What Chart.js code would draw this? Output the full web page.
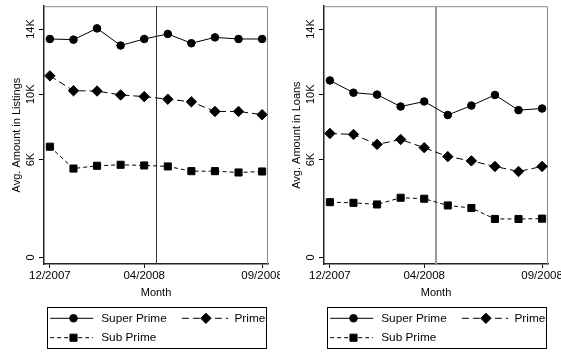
<!DOCTYPE html>
<html><head><meta charset="utf-8">
<script src="https://cdn.jsdelivr.net/npm/chart.js@4/dist/chart.umd.min.js"></script>
<style>
html,body{margin:0;padding:0;background:#fff;}
#wrap{position:relative;width:561px;height:352px;overflow:hidden;background:#fff;}
canvas{position:absolute;top:0;}
</style></head><body>
<div id="wrap">
<canvas id="c1" width="280" height="352" style="left:0"></canvas>
<canvas id="c2" width="281" height="352" style="left:280px"></canvas>
</div>
<script>
// ---- data (amounts in thousands of dollars) ----
const months = ['12/2007','01/2008','02/2008','03/2008','04/2008','05/2008','06/2008','07/2008','08/2008','09/2008'];
const xTickLabels = ['12/2007','04/2008','09/2008'];
const yTickValues = [0, 6, 10, 14];
const yTickLabels = ['0', '6K', '10K', '14K'];
const eventPosition = 4.5; // vertical reference line between 04/2008 and 05/2008
const seriesNames = ['Super Prime', 'Prime', 'Sub Prime'];

const superPrimeListings = [13.39, 13.35, 14.04, 12.99, 13.39, 13.70, 13.13, 13.49, 13.39, 13.39];
const primeListings      = [11.13, 10.22, 10.20, 9.96, 9.86, 9.70, 9.54, 8.95, 8.95, 8.75];
const subPrimeListings   = [6.79, 5.45, 5.62, 5.68, 5.64, 5.58, 5.29, 5.29, 5.21, 5.27];

const superPrimeLoans = [10.85, 10.10, 9.98, 9.25, 9.56, 8.73, 9.31, 9.96, 9.03, 9.13];
const primeLoans      = [7.60, 7.54, 6.93, 7.23, 6.73, 6.18, 5.92, 5.58, 5.27, 5.58];
const subPrimeLoans   = [3.39, 3.35, 3.25, 3.66, 3.60, 3.19, 3.03, 2.36, 2.36, 2.38];

const FONT = '"Liberation Sans", Arial, Helvetica, sans-serif';
Chart.defaults.font.family = FONT;
Chart.defaults.color = '#000';

const styles = [
  {dash: [], point: 'circle', radius: 3.8},
  {dash: [7, 4], point: 'rectRot', radius: 5.2},
  {dash: [4, 3], point: 'rect', radius: 5.0}
];

function toPoints(arr) { return arr.map((v, i) => ({x: i, y: v})); }

function makeDatasets(seriesList) {
  return seriesList.map((s, k) => ({
    label: seriesNames[k],
    data: toPoints(s),
    borderColor: '#000',
    backgroundColor: '#000',
    borderWidth: 1,
    borderDash: styles[k].dash,
    pointStyle: styles[k].point,
    pointRadius: styles[k].radius,
    pointBorderWidth: 1,
    pointBackgroundColor: '#000',
    pointBorderColor: '#000',
    tension: 0,
    fill: false
  }));
}

function drawMarker(ctx, style, r, x, y) {
  ctx.beginPath();
  if (style === 'circle') {
    ctx.arc(x, y, r, 0, Math.PI * 2);
  } else if (style === 'rectRot') {
    ctx.moveTo(x - r, y); ctx.lineTo(x, y - r); ctx.lineTo(x + r, y); ctx.lineTo(x, y + r); ctx.closePath();
  } else {
    const h = r * Math.SQRT1_2;
    ctx.rect(x - h, y - h, 2 * h, 2 * h);
  }
  ctx.fillStyle = '#000'; ctx.fill();
  ctx.lineWidth = 1; ctx.setLineDash([]); ctx.strokeStyle = '#000'; ctx.stroke();
}

const panelPlugin = {
  id: 'panel',
  beforeDatasetsDraw(chart, args, opts) {
    const ctx = chart.ctx, ca = chart.chartArea;
    ctx.save();
    // frame (top and right)
    ctx.strokeStyle = '#8a8a8a'; ctx.lineWidth = 1;
    ctx.beginPath();
    ctx.moveTo(ca.left, ca.top + 0.5); ctx.lineTo(ca.right - 0.5, ca.top + 0.5); ctx.lineTo(ca.right - 0.5, ca.bottom);
    ctx.stroke();
    // event line
    const xs = chart.scales.x;
    let px = xs.getPixelForValue(eventPosition);
    if (opts.eventWidth % 2 === 1) px = Math.round(px) + 0.5; else px = Math.round(px);
    ctx.strokeStyle = opts.eventColor; ctx.lineWidth = opts.eventWidth;
    ctx.beginPath(); ctx.moveTo(px, ca.top); ctx.lineTo(px, ca.bottom); ctx.stroke();
    ctx.restore();
  },
  afterDraw(chart, args, opts) {
    const ctx = chart.ctx, ca = chart.chartArea;
    const ys = chart.scales.y;
    ctx.save();
    // rotated y tick labels
    ctx.fillStyle = '#000';
    ctx.font = '11px ' + FONT;
    ctx.textAlign = 'center'; ctx.textBaseline = 'middle';
    yTickValues.forEach((v, i) => {
      const py = ys.getPixelForValue(v);
      ctx.save();
      ctx.translate(ca.left - 13.3, py);
      ctx.rotate(-Math.PI / 2);
      ctx.fillText(yTickLabels[i], 0, 0);
      ctx.restore();
    });
    // legend box
    const bl = Math.round(ca.left + 3.3) + 0.5;
    const br = Math.round(ca.right - 2) + 0.5;
    const bt = 307.5, bb = 348.5;
    ctx.strokeStyle = '#000'; ctx.lineWidth = 1; ctx.setLineDash([]);
    ctx.strokeRect(bl, bt, br - bl, bb - bt);
    const rows = [318.3, 337.7];
    const cols = [
      {s0: 2.7, s1: 45.7, m: 26, t: 53.7},
      {s0: 134.4, s1: 180.7, m: 158.4, t: 187}
    ];
    const placement = [{row: 0, col: 0}, {row: 0, col: 1}, {row: 1, col: 0}];
    ctx.save();
    ctx.beginPath(); ctx.rect(bl, bt, br - bl, bb - bt); ctx.clip();
    chart.data.datasets.forEach((ds, k) => {
      const p = placement[k], c = cols[p.col], y = rows[p.row];
      ctx.strokeStyle = '#000'; ctx.lineWidth = 1;
      ctx.setLineDash(ds.borderDash || []);
      ctx.beginPath(); ctx.moveTo(bl + c.s0, y); ctx.lineTo(bl + c.s1, y); ctx.stroke();
      drawMarker(ctx, ds.pointStyle, ds.pointRadius, bl + c.m, y);
      ctx.fillStyle = '#000';
      ctx.font = '11.8px ' + FONT;
      ctx.textAlign = 'left'; ctx.textBaseline = 'middle';
      ctx.fillText(ds.label, bl + c.t, y + 0.5);
    });
    ctx.restore();
    ctx.restore();
  }
};

function makeChart(id, seriesList, yTitle, rightPad, eventColor, eventWidth) {
  return new Chart(document.getElementById(id), {
    type: 'line',
    data: {datasets: makeDatasets(seriesList)},
    plugins: [panelPlugin],
    options: {
      responsive: false,
      animation: false,
      devicePixelRatio: 1,
      layout: {padding: {left: 0, top: 4, right: rightPad, bottom: 52}},
      plugins: {
        legend: {display: false},
        tooltip: {enabled: false},
        panel: {eventColor: eventColor, eventWidth: eventWidth}
      },
      scales: {
        x: {
          type: 'linear',
          min: -0.25, max: 9.25,
          afterBuildTicks: (s) => { s.ticks = xTickLabels.map(l => ({value: months.indexOf(l)})); },
          afterFit: (s) => { s.height = 36; s.paddingLeft = 0; s.paddingRight = 0; },
          ticks: {
            callback: (v) => months[v],
            font: {size: 11.5},
            color: '#000',
            padding: 1,
            maxRotation: 0, minRotation: 0,
            autoSkip: false
          },
          grid: {display: true, drawOnChartArea: false, drawTicks: true, tickLength: 4, color: '#000', lineWidth: 1},
          border: {display: true, color: '#222', width: 1.5},
          title: {display: true, text: 'Month', font: {size: 11}, color: '#000', padding: {top: 0, bottom: 0}}
        },
        y: {
          type: 'linear',
          min: -0.4, max: 15.4,
          afterBuildTicks: (s) => { s.ticks = yTickValues.map(v => ({value: v})); },
          afterFit: (s) => { s.width = 44; s.paddingTop = 0; s.paddingBottom = 0; },
          ticks: {display: false},
          grid: {display: true, drawOnChartArea: false, drawTicks: true, tickLength: 5, color: '#000', lineWidth: 1},
          border: {display: true, color: '#222', width: 1.5},
          title: {display: true, text: yTitle, font: {size: 11}, color: '#000', padding: {top: 10, bottom: 0}}
        }
      }
    }
  });
}

makeChart('c1', [superPrimeListings, primeListings, subPrimeListings], 'Avg. Amount in Listings', 12, '#333333', 1);
makeChart('c2', [superPrimeLoans, primeLoans, subPrimeLoans], 'Avg. Amount in Loans', 13, '#9a9a9a', 2);
</script>
</body></html>
